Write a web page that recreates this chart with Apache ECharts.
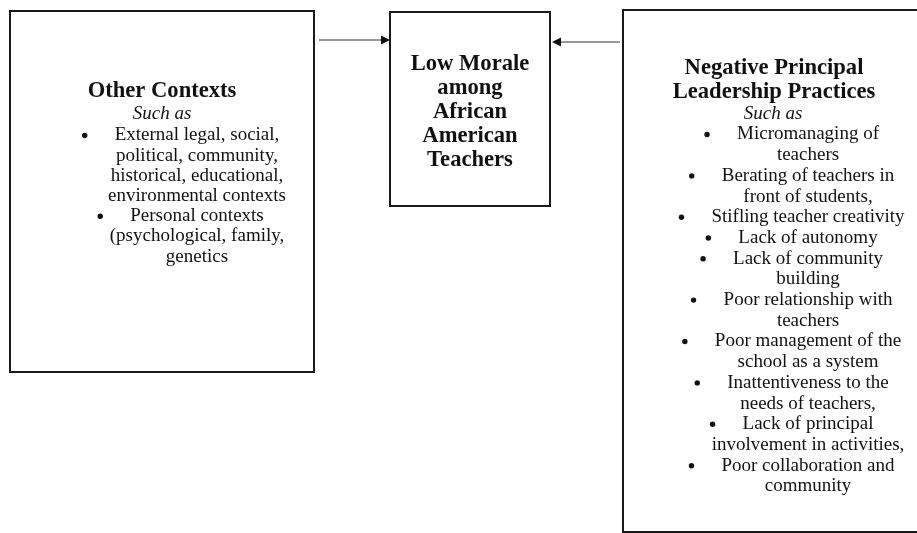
<!DOCTYPE html>
<html>
<head>
<meta charset="utf-8">
<script src="https://cdn.jsdelivr.net/npm/echarts@6/dist/echarts.min.js"></script>
<style>
html,body{margin:0;padding:0;background:#fff;}
#chart{width:917px;height:533px;}
</style>
</head>
<body>
<div id="chart"></div>
<script>
// ---- content ----
const leftTitle = ['Other Contexts'];
const leftSubtitle = 'Such as';
const leftItems = [
  ['External legal, social,', 'political, community,', 'historical, educational,', 'environmental contexts'],
  ['Personal contexts', '(psychological, family,', 'genetics']
];
const centerTitle = ['Low Morale', 'among', 'African', 'American', 'Teachers'];
const rightTitle = ['Negative Principal', 'Leadership Practices'];
const rightSubtitle = 'Such as';
const rightItems = [
  ['Micromanaging of', 'teachers'],
  ['Berating of teachers in', 'front of students,'],
  ['Stifling teacher creativity'],
  ['Lack of autonomy'],
  ['Lack of community', 'building'],
  ['Poor relationship with', 'teachers'],
  ['Poor management of the', 'school as a system'],
  ['Inattentiveness to the', 'needs of teachers,'],
  ['Lack of principal', 'involvement in activities,'],
  ['Poor collaboration and', 'community']
];

// ---- styling / layout ----
const FONT = '"Liberation Serif", "Times New Roman", serif';
const REG = 19, BOLD = 22.6;
const INK = '#111';
const DY = 2.5;

const ctx = document.createElement('canvas').getContext('2d');
function measure(t, size, weight) {
  ctx.font = (weight || 'normal') + ' ' + size + 'px ' + FONT;
  return ctx.measureText(t).width;
}
function txt(t, x, y, opts) {
  opts = opts || {};
  return {
    type: 'text', x: x, y: y + DY, silent: true,
    style: {
      text: t, fill: INK, align: 'center', verticalAlign: 'middle',
      font: (opts.style || 'normal') + ' ' + (opts.weight || 'normal') + ' ' + (opts.size || REG) + 'px ' + FONT
    }
  };
}
function box(x, y, w, h) {
  return { type: 'rect', shape: { x: x, y: y, width: w, height: h },
    style: { fill: 'none', stroke: '#1a1a1a', lineWidth: 2 }, silent: true };
}
function arrow(x1, y1, x2, y2) {
  const dir = Math.sign(x2 - x1);
  const hl = 9, hw = 4.5;
  return [
    { type: 'line', shape: { x1: x1, y1: y1, x2: x2 - dir * hl, y2: y2 },
      style: { stroke: '#333', lineWidth: 1.2 }, silent: true },
    { type: 'polygon', shape: { points: [[x2, y2], [x2 - dir * hl, y2 - hw], [x2 - dir * hl, y2 + hw]] },
      style: { fill: '#111' }, silent: true }
  ];
}
function bulletList(items, cx, y0, lh, gap) {
  const els = [];
  let y = y0;
  items.forEach(lines => {
    const w = measure(lines[0], REG);
    els.push({ type: 'circle', shape: { cx: cx - w / 2 - gap, cy: y + DY, r: 2.7 }, style: { fill: INK }, silent: true });
    lines.forEach(l => { els.push(txt(l, cx, y)); y += lh; });
  });
  return els;
}

const g = [];
// boxes
g.push(box(10, 11, 304, 361));
g.push(box(390, 12, 160, 194));
g.push(box(623, 10, 320, 522));
// arrows
g.push(...arrow(319, 40, 390, 40));
g.push(...arrow(620, 42, 552, 42));

// left box
leftTitle.forEach((t, i) => g.push(txt(t, 162, 89 + i * 24, { weight: 'bold', size: BOLD })));
g.push(txt(leftSubtitle, 162, 111, { style: 'italic' }));
g.push(...bulletList(leftItems, 197, 133, 20.2, 30));

// center box
centerTitle.forEach((t, i) => g.push(txt(t, 470, 62 + i * 23.8, { weight: 'bold', size: BOLD })));

// right box
rightTitle.forEach((t, i) => g.push(txt(t, 774, 66 + i * 24, { weight: 'bold', size: BOLD })));
g.push(txt(rightSubtitle, 773, 111, { style: 'italic' }));
g.push(...bulletList(rightItems, 808, 132, 20.7, 30));

const chart = echarts.init(document.getElementById('chart'), null, { renderer: 'canvas' });
chart.setOption({ backgroundColor: '#fff', animation: false, graphic: { elements: g } });
</script>
</body>
</html>
